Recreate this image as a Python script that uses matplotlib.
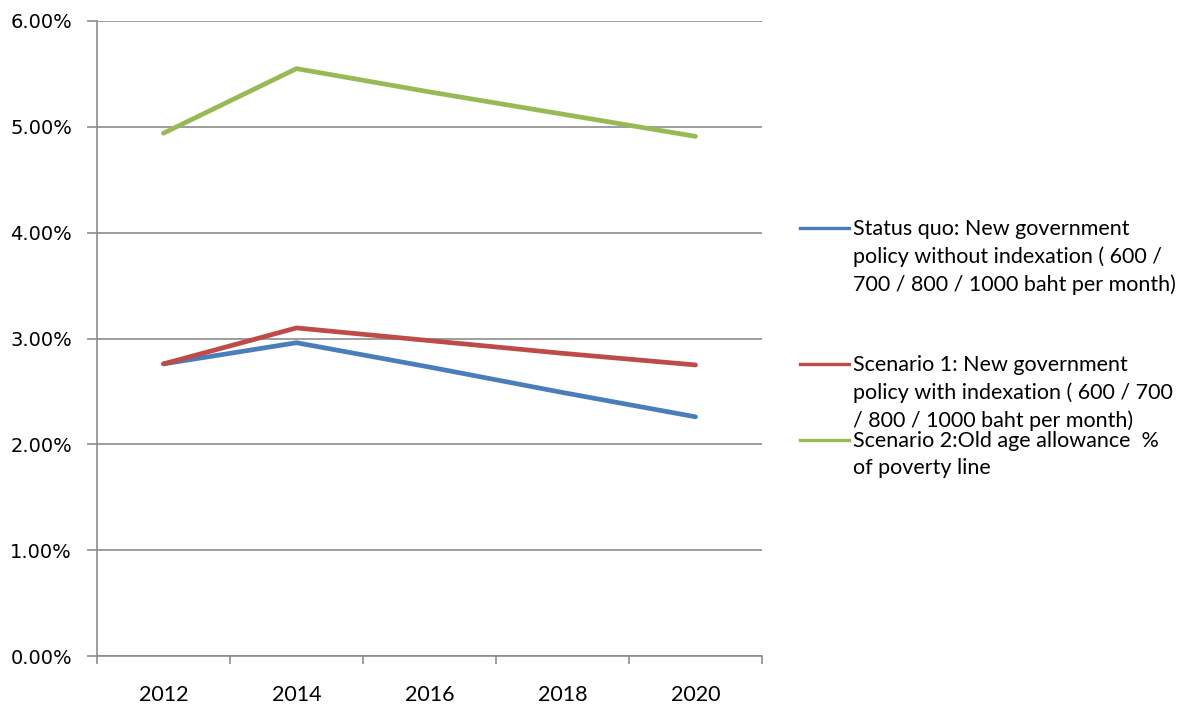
import numpy as np
import matplotlib
matplotlib.use("Agg")
import matplotlib.pyplot as plt
from matplotlib.lines import Line2D
from matplotlib.ticker import FixedLocator

plt.rcParams['font.family'] = ['Lato', 'DejaVu Sans']

# Valori (procente) pe ani
years = ['2012', '2014', '2016', '2018', '2020']
status_quo = [2.76, 2.96, 2.73, 2.49, 2.26]
scenario1 = [2.76, 3.10, 2.98, 2.86, 2.75]
scenario2 = [4.94, 5.55, 5.33, 5.12, 4.91]
y_ticks = [0, 1, 2, 3, 4, 5, 6]

labels = [
    'Status quo: New government\npolicy without indexation ( 600 /\n700 / 800 / 1000 baht per month)',
    'Scenario 1: New government\npolicy with indexation ( 600 / 700\n/ 800 / 1000 baht per month)',
    'Scenario 2:Old age allowance  %\nof poverty line',
]
colors = ['#4A7EBB', '#BE4B48', '#98B954']

W, H = 1204, 707
fig = plt.figure(figsize=(W / 100, H / 100), dpi=100)
ax = fig.add_axes([97 / W, 1 - 656 / H, (762 - 97) / W, (656 - 21) / H])

x = np.arange(len(years))
for serie, c in zip([status_quo, scenario1, scenario2], colors):
    ax.plot(x, serie, color=c, lw=3.4, solid_capstyle='round', solid_joinstyle='round')

grid_c = '#8c8c8c'
ax.set_xlim(-0.5, len(years) - 0.5)
ax.set_ylim(0, 6)
ax.set_yticks(y_ticks, [f'{v:.2f}%' for v in y_ticks], fontfamily='DejaVu Sans')
ax.yaxis.grid(True, color=grid_c, lw=1.2)
ax.set_axisbelow(True)

# Axa X: liniute intre categorii, etichete la mijloc
ax.xaxis.set_major_locator(FixedLocator(np.arange(-0.5, len(years), 1)))
ax.set_xticklabels([])
ax.set_xticks(x, years, minor=True)
ax.tick_params(axis='x', which='major', length=6, color=grid_c, width=1.2, direction='out')
ax.tick_params(axis='x', which='minor', length=0, pad=21, labelsize=15.5)
ax.tick_params(axis='y', length=7, color=grid_c, width=1.2, labelsize=14, pad=11)

for s in ['top', 'right']:
    ax.spines[s].set_visible(False)
for s in ['left', 'bottom']:
    ax.spines[s].set_color(grid_c)
    ax.spines[s].set_linewidth(1.2)

# Legenda desenata manual (text pe mai multe randuri, linia la primul rand)
leg_y = [228, 364, 440]
for lab, c, yy in zip(labels, colors, leg_y):
    fy = 1 - yy / H
    fig.add_artist(Line2D([800 / W, 849 / W], [fy, fy], color=c, lw=2.4,
                          transform=fig.transFigure))
    fig.text(853 / W, 1 - (yy - 9) / H, lab, fontsize=15.5, va='top', ha='left',
             linespacing=1.45)

fig.savefig('out.png', dpi=100)
